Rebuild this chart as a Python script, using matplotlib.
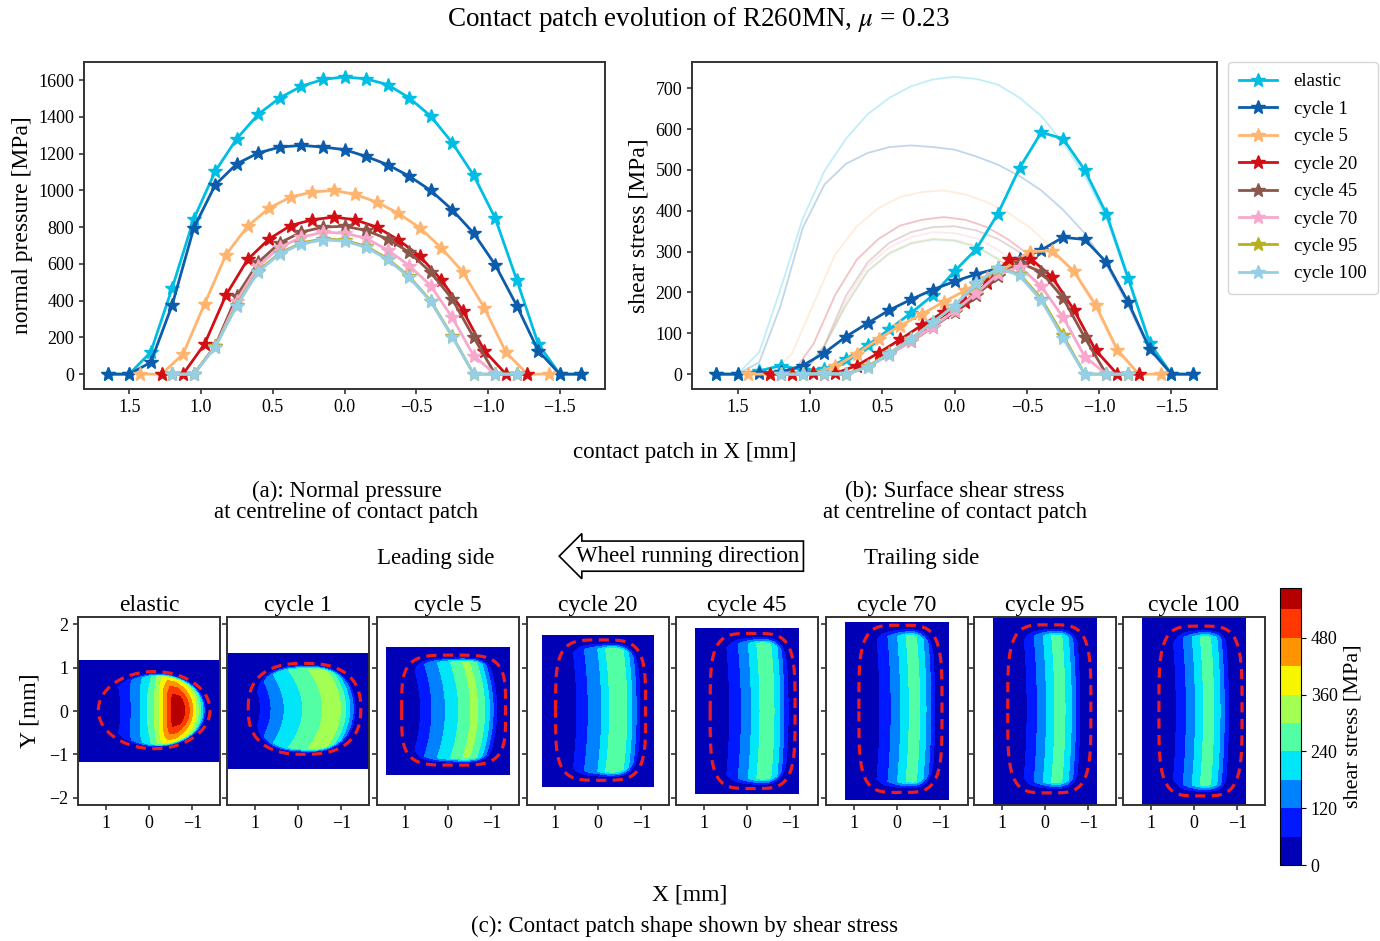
import numpy as np
import matplotlib
matplotlib.use('Agg')
import matplotlib.pyplot as plt

plt.rcParams['font.family'] = ['Liberation Serif', 'DejaVu Serif']
plt.rcParams['mathtext.fontset'] = 'stix'

names = ['elastic', 'cycle 1', 'cycle 5', 'cycle 20', 'cycle 45', 'cycle 70', 'cycle 95', 'cycle 100']
colors = ['#00bde3', '#0b5cab', '#ffb570', '#d10f14', '#8c564b', '#f8a8cc', '#b8b01c', '#94cfe6']

# half length of the x grid of each series, grid step is 0.15 mm
half_len = [1.65, 1.65, 1.425, 1.275, 1.2, 1.2, 1.2, 1.2]

# (a) normal pressure at centreline [MPa]
p_elastic = [0, 0, 120, 470, 845, 1105, 1282, 1415, 1504, 1567, 1604, 1618, 1607, 1576, 1504, 1405, 1260, 1082, 849, 513, 164, 0, 0]
p_cycle1 = [0, 0, 64, 378, 795, 1031, 1145, 1204, 1236, 1245, 1236, 1222, 1185, 1140, 1078, 1000, 895, 767, 595, 373, 127, 0, 0]
p_cycle5 = [0, 0, 109, 382, 651, 805, 904, 964, 991, 1000, 978, 936, 876, 796, 687, 555, 360, 118, 0, 0]
p_cycle20 = [0, 0, 164, 431, 624, 736, 809, 840, 855, 840, 800, 731, 642, 513, 345, 127, 0, 0]
p_cycle45 = [0, 0, 155, 427, 609, 715, 773, 800, 805, 782, 736, 664, 555, 409, 200, 0, 0]
p_cycle70 = [0, 0, 150, 400, 590, 690, 745, 773, 767, 740, 676, 591, 482, 309, 100, 0, 0]
p_cycle95 = [0, 0, 152, 378, 563, 660, 714, 736, 729, 696, 629, 532, 400, 208, 0, 0, 0]
p_cycle100 = [0, 0, 149, 373, 558, 655, 709, 731, 724, 691, 624, 527, 396, 204, 0, 0, 0]
pressure = [p_elastic, p_cycle1, p_cycle5, p_cycle20, p_cycle45, p_cycle70, p_cycle95, p_cycle100]

# (b) surface shear stress at centreline [MPa]
s_elastic = [0, 0, 8, 21, 10, 12, 37, 71, 110, 150, 193, 252, 306, 393, 505, 592, 577, 500, 393, 236, 76, 0, 0]
s_cycle1 = [0, 0, 4, 5, 21, 52, 92, 125, 157, 183, 207, 227, 245, 259, 281, 304, 335, 330, 274, 177, 62, 0, 0]
s_cycle5 = [0, 0, 0, 3, 19, 50, 86, 119, 147, 177, 205, 235, 270, 300, 302, 252, 170, 60, 0, 0]
s_cycle20 = [0, 0, 4, 2, 21, 52, 85, 120, 152, 177, 223, 281, 283, 238, 158, 59, 0, 0]
s_cycle45 = [0, 0, 0, 0, 18, 50, 80, 115, 152, 193, 240, 273, 250, 187, 90, 0, 0]
s_cycle70 = [0, 0, 0, 0, 17, 48, 80, 116, 155, 198, 245, 263, 215, 140, 43, 0, 0]
s_cycle95 = [0, 0, 2, 0, 19, 51, 87, 127, 168, 220, 258, 245, 185, 95, 0, 0, 0]
s_cycle100 = [0, 0, 2, 0, 17, 50, 87, 127, 168, 222, 260, 242, 181, 89, 0, 0, 0]
shear = [s_elastic, s_cycle1, s_cycle5, s_cycle20, s_cycle45, s_cycle70, s_cycle95, s_cycle100]

traction_coef = 0.45  # faint traction bound lines in (b)

# (c) contact patch outline (red dashed) and extent of the plotted field
bound_cx = [-0.12, -0.15, -0.13, -0.06, -0.13, -0.08, -0.10, -0.15]
bound_cy = [0.02, 0.05, 0.02, 0.02, 0.0, 0.05, 0.05, 0.0]
bound_a = [1.29, 1.30, 1.20, 1.04, 0.98, 0.96, 0.96, 0.96]
bound_b = [0.89, 1.05, 1.27, 1.62, 1.79, 1.93, 1.94, 1.96]
bound_n = [2.0, 2.5, 4.0, 4.0, 4.0, 4.0, 4.0, 4.0]
curve_shift = [0.3, 0.45, 0.25, 0.12, 0.1, 0.1, 0.1, 0.1]
field_hy = [1.17, 1.33, 1.46, 1.75, 1.90, 2.04, 2.30, 2.30]

W, H = 1380, 941
fig = plt.figure(figsize=(13.8, 9.41), dpi=100)

ax1 = fig.add_axes([84 / W, 1 - 389 / H, 521 / W, 327 / H])
ax2 = fig.add_axes([692 / W, 1 - 389 / H, 525 / W, 327 / H])

for i in range(8):
    xg = np.linspace(half_len[i], -half_len[i], len(pressure[i]))
    ax1.plot(xg, pressure[i], color=colors[i], marker='*', markersize=10, linewidth=2, label=names[i])
for i in range(8):
    xg = np.linspace(half_len[i], -half_len[i], len(pressure[i]))
    ax2.plot(xg, traction_coef * np.array(pressure[i]), color=colors[i], linewidth=1.3, alpha=0.25)
for i in range(8):
    xg = np.linspace(half_len[i], -half_len[i], len(shear[i]))
    ax2.plot(xg, shear[i], color=colors[i], marker='*', markersize=10, linewidth=2, label=names[i])

for ax in [ax1, ax2]:
    ax.invert_xaxis()
    ax.set_xticks([1.5, 1.0, 0.5, 0.0, -0.5, -1.0, -1.5])
    ax.tick_params(labelsize=13, color='#333333', width=1.2)
    for sp in ax.spines.values():
        sp.set_color('#333333')
        sp.set_linewidth(1.4)
ax1.set_yticks(range(0, 1601, 200))
ax2.set_yticks(range(0, 701, 100))
ax1.set_ylabel('normal pressure [MPa]', fontsize=17)
ax2.set_ylabel('shear stress [MPa]', fontsize=17)

ax2.legend(loc='upper left', bbox_to_anchor=(1228 / W, 1 - 62 / H), bbox_transform=fig.transFigure,
           fontsize=13.5, labelspacing=0.55, handlelength=2.0, handletextpad=0.9, borderpad=0.6,
           fancybox=True, edgecolor='#cccccc', borderaxespad=0)

fig.text(0.506, 0.979, 'Contact patch evolution of R260MN, $\\mu$ = 0.23', ha='center', va='center', fontsize=19.5)
fig.text(0.496, 0.519, 'contact patch in X [mm]', ha='center', va='center', fontsize=16.5)
fig.text(0.251, 0.4665, '(a): Normal pressure\nat centreline of contact patch', ha='center', va='center', fontsize=16.5, linespacing=1.0)
fig.text(0.692, 0.4665, '(b): Surface shear stress\nat centreline of contact patch', ha='center', va='center', fontsize=16.5, linespacing=1.0)
fig.text(0.316, 0.407, 'Leading side', ha='center', va='center', fontsize=16.5)
fig.text(0.668, 0.407, 'Trailing side', ha='center', va='center', fontsize=16.5)
fig.text(0.498, 0.409, 'Wheel running direction', ha='center', va='center', fontsize=16.5,
         bbox=dict(boxstyle='larrow,pad=0.2', fc='white', ec='black', lw=1.2))

# (c) shear stress fields
levels = np.arange(0, 601, 60)
lefts = [78, 227, 377, 527, 676, 826, 974, 1123]
t = np.linspace(0, 2 * np.pi, 400)
for i in range(8):
    ax = fig.add_axes([lefts[i] / W, 1 - 805 / H, 142 / W, 188 / H])
    hx = half_len[i]
    hy = field_hy[i]
    X, Y = np.meshgrid(np.linspace(-hx, hx, 300), np.linspace(-hy, hy, 300))
    xg = np.linspace(half_len[i], -half_len[i], len(shear[i]))
    yn = (Y - bound_cy[i]) / bound_b[i]
    r = ((np.abs(X - bound_cx[i]) / bound_a[i]) ** bound_n[i] + np.abs(yn) ** bound_n[i]) ** (1 / bound_n[i])
    tau = np.interp(X - curve_shift[i] * yn ** 2, xg[::-1], np.array(shear[i])[::-1])
    env = np.clip((0.97 - r) / 0.1, 0, 1)
    if i == 0:
        # elastic field drops off smoothly away from the centreline
        env = env * np.clip(1 - 0.5 * yn ** 2, 0, 1)
    F = np.clip(tau * env, 0, 599)
    cs = ax.contourf(X, Y, F, levels=levels, cmap='jet')
    n = bound_n[i]
    bx = bound_cx[i] + bound_a[i] * np.sign(np.cos(t)) * np.abs(np.cos(t)) ** (2 / n)
    by = bound_cy[i] + bound_b[i] * np.sign(np.sin(t)) * np.abs(np.sin(t)) ** (2 / n)
    ax.plot(bx, by, color='#ee1c1c', linewidth=2.3, dashes=(3.2, 2))
    ax.set_xlim(1.64, -1.64)
    ax.set_ylim(-2.17, 2.17)
    ax.set_xticks([1, 0, -1])
    ax.set_yticks([2, 1, 0, -1, -2])
    ax.set_title(names[i], fontsize=17, pad=4)
    ax.tick_params(labelsize=13, color='#333333', width=1.2)
    if i > 0:
        ax.tick_params(labelleft=False)
    for sp in ax.spines.values():
        sp.set_color('#333333')
        sp.set_linewidth(1.4)

cax = fig.add_axes([1280 / W, 1 - 865 / H, 21 / W, 277 / H])
cb = fig.colorbar(cs, cax=cax, ticks=[0, 120, 240, 360, 480])
cb.ax.set_ylim(0, 585)
cb.ax.tick_params(labelsize=13)
cb.set_label('shear stress [MPa]', fontsize=16)

fig.text(0.022, 0.2444, 'Y [mm]', rotation=90, ha='center', va='center', fontsize=17)
fig.text(0.5, 0.049, 'X [mm]', ha='center', va='center', fontsize=17)
fig.text(0.496, 0.015, '(c): Contact patch shape shown by shear stress', ha='center', va='center', fontsize=16.5)

fig.savefig('out.png', dpi=100)
